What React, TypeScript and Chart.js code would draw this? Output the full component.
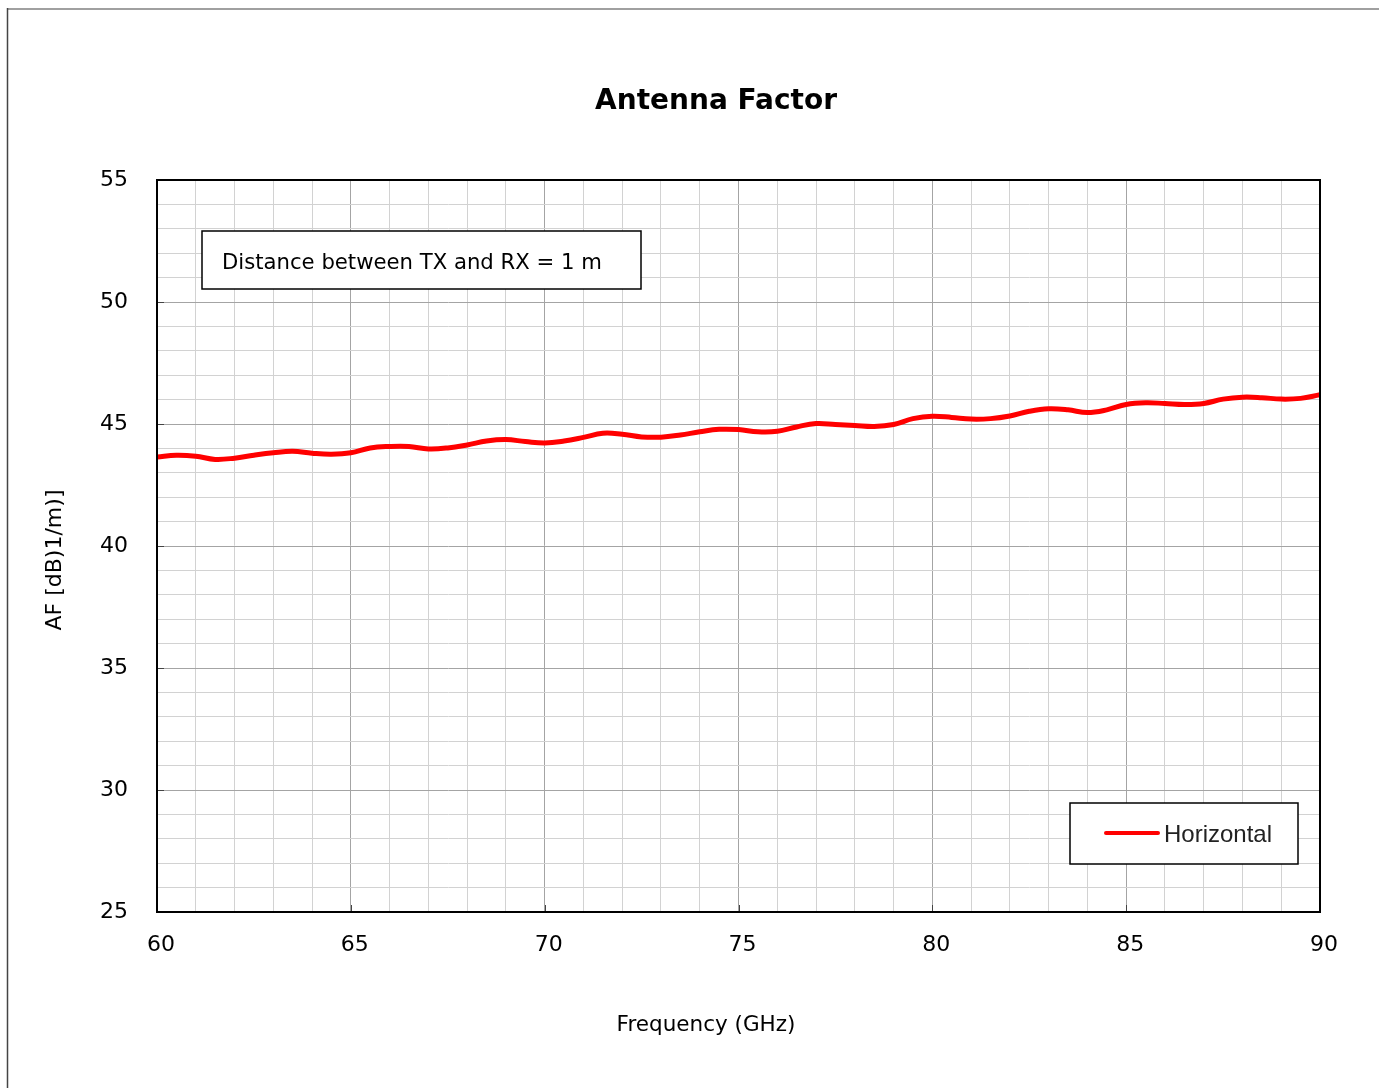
import React, { useEffect, useRef } from "react";
import { Chart, registerables } from "chart.js";

Chart.register(...registerables);

const chartTitle = "Antenna Factor";
const xAxisTitle = "Frequency (GHz)";
const yAxisTitle = "AF [dB)1/m)]";
const annotationText = "Distance between TX and RX = 1 m";
const seriesLabel = "Horizontal";

const freqGHz = [
  60, 60.5, 61, 61.5, 62, 62.5, 63, 63.5, 64, 64.5, 65, 65.5, 66, 66.5, 67, 67.5,
  68, 68.5, 69, 69.5, 70, 70.5, 71, 71.5, 72, 72.5, 73, 73.5, 74, 74.5, 75, 75.5,
  76, 76.5, 77, 77.5, 78, 78.5, 79, 79.5, 80, 80.5, 81, 81.5, 82, 82.5, 83, 83.5,
  84, 84.5, 85, 85.5, 86, 86.5, 87, 87.5, 88, 88.5, 89, 89.5, 90,
];
const afHorizontal = [
  43.65, 43.72, 43.68, 43.55, 43.6, 43.72, 43.82, 43.88, 43.8, 43.76, 43.82, 44.02, 44.08, 44.08, 43.98, 44.02,
  44.14, 44.3, 44.36, 44.28, 44.22, 44.3, 44.45, 44.62, 44.58, 44.47, 44.46, 44.55, 44.68, 44.78, 44.77, 44.68,
  44.7, 44.88, 45.02, 44.98, 44.94, 44.9, 44.98, 45.22, 45.32, 45.27, 45.2, 45.22, 45.33, 45.52, 45.62, 45.58,
  45.47, 45.58, 45.8, 45.87, 45.84, 45.8, 45.84, 46.02, 46.1, 46.08, 46.02, 46.05, 46.2,
];
const xMin = 60;
const xMax = 90;
const yMin = 25;
const yMax = 55;
const majorStep = 5;

const FONT = "'DejaVu Sans', sans-serif";

const decorPlugin = {
  id: "decor",
  beforeDraw(chart: any) {
    const { ctx, width, height } = chart;
    ctx.save();
    ctx.fillStyle = "#ffffff";
    ctx.fillRect(0, 0, width, height);
    ctx.strokeStyle = "#a0a0a0";
    ctx.lineWidth = 2;
    ctx.beginPath();
    ctx.moveTo(7, 9);
    ctx.lineTo(width, 9);
    ctx.stroke();
    ctx.strokeStyle = "#444444";
    ctx.lineWidth = 1.5;
    ctx.beginPath();
    ctx.moveTo(7.5, 8);
    ctx.lineTo(7.5, height);
    ctx.stroke();
    ctx.restore();
  },
  afterDraw(chart: any) {
    const { ctx, chartArea: a, scales } = chart;
    const xs = scales.x;
    const ys = scales.y;
    ctx.save();
    // inward major ticks
    ctx.strokeStyle = "#444444";
    ctx.lineWidth = 1;
    for (let v = yMin + majorStep; v < yMax; v += majorStep) {
      const py = Math.round(ys.getPixelForValue(v)) + 0.5;
      ctx.beginPath();
      ctx.moveTo(a.left, py);
      ctx.lineTo(a.left + 7, py);
      ctx.stroke();
    }
    for (let v = xMin + majorStep; v < xMax; v += majorStep) {
      const px = Math.round(xs.getPixelForValue(v)) + 0.5;
      ctx.beginPath();
      ctx.moveTo(px, a.bottom);
      ctx.lineTo(px, a.bottom - 7);
      ctx.stroke();
    }
    // plot frame
    ctx.strokeStyle = "#000000";
    ctx.lineWidth = 2;
    ctx.strokeRect(a.left, a.top, a.right - a.left, a.bottom - a.top);

    // title
    ctx.fillStyle = "#000000";
    ctx.textAlign = "center";
    ctx.textBaseline = "middle";
    ctx.font = `bold 28px ${FONT}`;
    ctx.fillText(chartTitle, 716, 102);

    // axis titles
    ctx.font = `21.5px ${FONT}`;
    ctx.fillText(xAxisTitle, 706, 1025);
    ctx.save();
    ctx.translate(55, 560);
    ctx.rotate(-Math.PI / 2);
    ctx.font = `22px ${FONT}`;
    ctx.fillText(yAxisTitle, 0, 0);
    ctx.restore();

    // annotation box
    const bx = a.left + 45;
    const by = a.top + 51;
    ctx.fillStyle = "#ffffff";
    ctx.fillRect(bx, by, 439, 58);
    ctx.strokeStyle = "#000000";
    ctx.lineWidth = 1.5;
    ctx.strokeRect(bx, by, 439, 58);
    ctx.fillStyle = "#000000";
    ctx.textAlign = "left";
    ctx.font = `21.2px ${FONT}`;
    ctx.fillText(annotationText, bx + 20, by + 32);

    // legend box
    const lx = a.right - 250;
    const ly = a.bottom - 109;
    ctx.fillStyle = "#ffffff";
    ctx.fillRect(lx, ly, 228, 61);
    ctx.strokeStyle = "#000000";
    ctx.lineWidth = 1.5;
    ctx.strokeRect(lx, ly, 228, 61);
    ctx.strokeStyle = "#ff0000";
    ctx.lineWidth = 4;
    ctx.lineCap = "round";
    ctx.beginPath();
    ctx.moveTo(lx + 36, ly + 30);
    ctx.lineTo(lx + 88, ly + 30);
    ctx.stroke();
    ctx.fillStyle = "#222222";
    ctx.font = `24px 'Liberation Sans', Arial, sans-serif`;
    ctx.textAlign = "left";
    ctx.fillText(seriesLabel, lx + 94, ly + 32);
    ctx.restore();
  },
};

export default function App() {
  const ref = useRef<HTMLCanvasElement>(null);
  useEffect(() => {
    if (!ref.current) return;
    const points = freqGHz.map((f, i) => ({ x: f, y: afHorizontal[i] }));
    const gridColor = (c: any) =>
      Math.abs(c.tick.value % majorStep) < 1e-9 ? "#a4a4a4" : "#d2d2d2";
    const chart = new Chart(ref.current, {
      type: "line",
      data: {
        datasets: [
          {
            label: seriesLabel,
            data: points,
            borderColor: "#ff0000",
            borderWidth: 5,
            pointRadius: 0,
            tension: 0.4,
            fill: false,
          },
        ],
      },
      options: {
        responsive: false,
        maintainAspectRatio: false,
        devicePixelRatio: 1,
        animation: false,
        layout: { padding: { top: 180, right: 59, left: 0, bottom: 0 } },
        plugins: {
          legend: { display: false },
          title: { display: false },
          tooltip: { enabled: false },
        },
        scales: {
          x: {
            type: "linear",
            min: xMin,
            max: xMax,
            afterFit: (s: any) => {
              s.height = 176;
            },
            ticks: {
              stepSize: 1,
              autoSkip: false,
              maxRotation: 0,
              padding: 20,
              labelOffset: 4,
              color: "#000000",
              font: { family: FONT, size: 22 },
              callback: (v: any) => (Number(v) % majorStep === 0 ? String(v) : ""),
            },
            grid: { color: gridColor, lineWidth: 1, drawTicks: false },
            border: { display: true, color: "#000000", width: 2 },
          },
          y: {
            type: "linear",
            min: yMin,
            max: yMax,
            afterFit: (s: any) => {
              s.width = 157;
            },
            ticks: {
              stepSize: 1,
              autoSkip: false,
              padding: 29,
              color: "#000000",
              font: { family: FONT, size: 22 },
              callback: (v: any) => (Number(v) % majorStep === 0 ? String(v) : ""),
            },
            grid: { color: gridColor, lineWidth: 1, drawTicks: false },
            border: { display: true, color: "#000000", width: 2 },
          },
        },
      },
      plugins: [decorPlugin],
    });
    return () => chart.destroy();
  }, []);
  return (
    <div style={{ position: "absolute", left: 0, top: 0, width: 1379, height: 1088 }}>
      <canvas ref={ref} width={1379} height={1088} style={{ width: 1379, height: 1088, display: "block" }} />
    </div>
  );
}
